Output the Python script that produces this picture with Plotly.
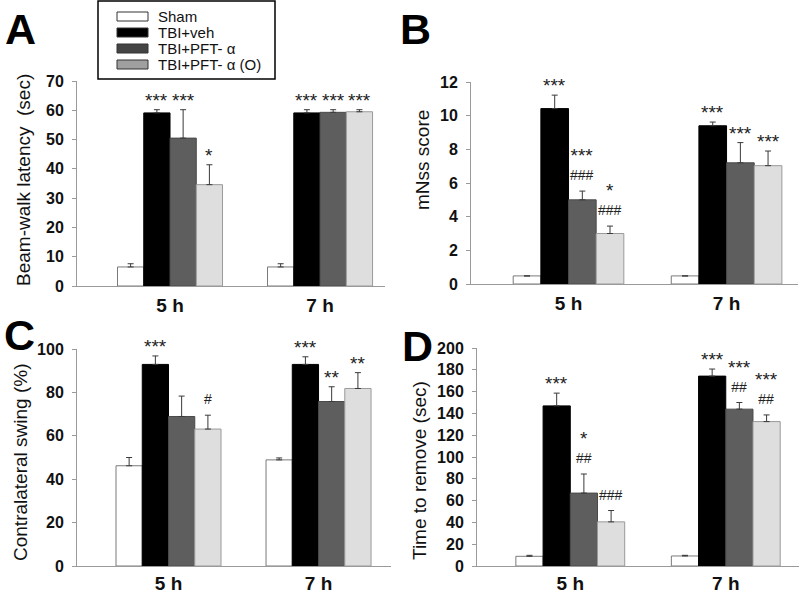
import plotly.graph_objects as go

# ---------------- data ----------------
groups = ["Sham", "TBI+veh", "TBI+PFT- α", "TBI+PFT- α (O)"]
timepoints = ["5 h", "7 h"]

# Panel A: Beam-walk latency (sec)
A_mean = [[6.5, 6.5], [59.1, 59.1], [50.5, 59.3], [34.6, 59.5]]
A_err = [[1.1, 1.1], [1.1, 1.1], [9.7, 0.9], [6.8, 0.7]]
A_stars = [["", ""], ["***", "***"], ["***", "***"], ["*", "***"]]
A_hash = [["", ""], ["", ""], ["", ""], ["", ""]]

# Panel B: mNss score
B_mean = [[0.48, 0.48], [10.42, 9.4], [5.0, 7.2], [3.0, 7.03]]
B_err = [[0, 0], [0.8, 0.22], [0.52, 1.2], [0.44, 0.87]]
B_stars = [["", ""], ["***", "***"], ["***", "***"], ["*", "***"]]
B_hash = [["", ""], ["", ""], ["###", ""], ["###", ""]]

# Panel C: Contralateral swing (%)
C_mean = [[46.2, 48.9], [92.9, 92.9], [68.9, 75.8], [63.1, 81.8]]
C_err = [[3.8, 0.9], [3.9, 3.5], [9.4, 6.8], [6.4, 7.3]]
C_stars = [["", ""], ["***", "***"], ["", "**"], ["", "**"]]
C_hash = [["", ""], ["", ""], ["", ""], ["#", ""]]

# Panel D: Time to remove (sec)
D_mean = [[8.9, 9.2], [146.9, 174.2], [66.9, 143.9], [40.5, 132.5]]
D_err = [[0.9, 0.6], [11.7, 6.5], [17.5, 6.1], [10.4, 6.1]]
D_stars = [["", ""], ["***", "***"], ["*", "***"], ["", "***"]]
D_hash = [["", ""], ["", ""], ["##", "##"], ["###", "##"]]

A_ticks = [0, 10, 20, 30, 40, 50, 60, 70]
B_ticks = [0, 2, 4, 6, 8, 10, 12]
C_ticks = [0, 20, 40, 60, 80, 100]
D_ticks = list(range(0, 201, 20))

# ---------------- styles ----------------
W, H = 800, 593
FONT = "Liberation Sans, Arial, sans-serif"
bar_fill = ["#ffffff", "#000000", "#5e5e5e", "#dedede"]
bar_line = ["#7a7a7a", "#000000", "#4a4a4a", "#9a9a9a"]
leg_fill = ["#ffffff", "#000000", "#444444", "#a0a0a0"]
BARGAP = 0.3
STAR_SIZE = 19
HASH_SIZE = 14


def px(x):
    return x / W


def py(y):
    return 1 - y / H


panels = [
    dict(name="A", mean=A_mean, err=A_err, stars=A_stars, hashes=A_hash, ticks=A_ticks,
         xdom=[px(77), px(385)], ydom=[py(286), py(81)], yr=[0, 70], xr=[-0.62, 1.433],
         title="Beam-walk latency  (sec)", tpos=(23, 180), letter=(4, 29), xstand=2),
    dict(name="B", mean=B_mean, err=B_err, stars=B_stars, hashes=B_hash, ticks=B_ticks,
         xdom=[px(471), px(798)], ydom=[py(284), py(82)], yr=[0, 12], xr=[-0.617, 1.452],
         title="mNss score", tpos=(423, 160), letter=(399, 29), xstand=2),
    dict(name="C", mean=C_mean, err=C_err, stars=C_stars, hashes=C_hash, ticks=C_ticks,
         xdom=[px(77), px(391)], ydom=[py(566), py(349)], yr=[0, 100], xr=[-0.61, 1.483],
         title="Contralateral swing (%)", tpos=(20, 463), letter=(3, 335), xstand=0),
    dict(name="D", mean=D_mean, err=D_err, stars=D_stars, hashes=D_hash, ticks=D_ticks,
         xdom=[px(477), px(799)], ydom=[py(566), py(348)], yr=[0, 200], xr=[-0.6, 1.471],
         title="Time to remove (sec)", tpos=(420, 471), letter=(401, 346), xstand=0),
]

fig = go.Figure()
annotations = []
shapes = []
layout_axes = {}

gw = 1 - BARGAP
for k, p in enumerate(panels):
    sfx = "" if k == 0 else str(k + 1)
    xa, ya = "x" + sfx, "y" + sfx
    for i, g in enumerate(groups):
        fig.add_trace(go.Bar(
            x=timepoints, y=p["mean"][i], name=g, showlegend=False,
            xaxis=xa, yaxis=ya,
            marker=dict(color=bar_fill[i], line=dict(color=bar_line[i], width=1)),
            error_y=dict(type="data", symmetric=False, array=p["err"][i],
                         arrayminus=[0] * len(timepoints), color="#3a3a3a",
                         thickness=1, width=3),
        ))
        for j, tp in enumerate(timepoints):
            xc = j - gw / 2 + gw / 8 + i * gw / 4
            top = p["mean"][i][j] + p["err"][i][j]
            h = p["hashes"][i][j]
            s = p["stars"][i][j]
            if h:
                txt = h
                if s:
                    txt = f"<span style='font-size:{STAR_SIZE}px'>{s}</span><br>{h}"
                annotations.append(dict(x=xc, y=top, xref=xa, yref=ya, text=txt,
                                        showarrow=False, yanchor="bottom", yshift=7,
                                        borderpad=0,
                                        font=dict(family=FONT, size=HASH_SIZE, color="#222")))
            elif s:
                annotations.append(dict(x=xc, y=top, xref=xa, yref=ya, text=s,
                                        showarrow=False, yanchor="bottom",
                                        yshift=-2, borderpad=0,
                                        font=dict(family=FONT, size=STAR_SIZE, color="#222")))
    layout_axes["xaxis" + sfx] = dict(
        domain=p["xdom"], anchor=ya, type="category", range=p["xr"],
        showline=True, linecolor="#9a9a9a", linewidth=1, ticks="",
        showgrid=False, zeroline=False, ticklabelstandoff=p["xstand"],
        automargin=False,
        tickfont=dict(family=FONT, size=19, color="#111", weight="bold"))
    layout_axes["yaxis" + sfx] = dict(
        domain=p["ydom"], anchor=xa, range=p["yr"], tickvals=p["ticks"],
        showline=True, linecolor="#9a9a9a", linewidth=1, ticks="outside",
        ticklen=4, tickcolor="#9a9a9a", showgrid=False, zeroline=False,
        ticklabelstandoff=5, automargin=False,
        tickfont=dict(family=FONT, size=16, color="#111", weight="bold"))
    annotations.append(dict(x=px(p["tpos"][0]), y=py(p["tpos"][1]), xref="paper",
                            yref="paper", text=p["title"], textangle=-90, showarrow=False,
                            xanchor="center", yanchor="middle",
                            font=dict(family=FONT, size=19, color="#111")))
    annotations.append(dict(x=px(p["letter"][0]), y=py(p["letter"][1]), xref="paper",
                            yref="paper", text=p["name"], showarrow=False,
                            xanchor="left", yanchor="middle", borderpad=0,
                            font=dict(family=FONT, size=43, color="#000", weight="bold")))

# ---------------- legend (drawn manually) ----------------
shapes.append(dict(type="rect", xref="paper", yref="paper", x0=px(98), x1=px(275),
                   y0=py(79), y1=py(1), line=dict(color="#000", width=1.5),
                   fillcolor="rgba(255,255,255,1)"))
leg_rows = [16.5, 32.5, 48.5, 64.5]
for i, g in enumerate(groups):
    yc = leg_rows[i]
    shapes.append(dict(type="rect", xref="paper", yref="paper", x0=px(117), x1=px(148),
                       y0=py(yc + 4.5), y1=py(yc - 4.5),
                       line=dict(color="#333", width=1), fillcolor=leg_fill[i]))
    annotations.append(dict(x=px(157), y=py(yc), xref="paper", yref="paper", text=g,
                            showarrow=False, xanchor="left", yanchor="middle",
                            borderpad=0,
                            font=dict(family=FONT, size=15, color="#111")))

fig.update_layout(
    width=W, height=H, margin=dict(l=0, r=0, t=0, b=0, pad=0),
    paper_bgcolor="white", plot_bgcolor="white",
    barmode="group", bargap=BARGAP, bargroupgap=0,
    annotations=annotations, shapes=shapes, showlegend=False,
    **layout_axes,
)

fig.write_html("out.html", config={"displayModeBar": False},
               post_script="document.body.style.margin='0';"
                           "document.body.style.overflow='hidden';")
